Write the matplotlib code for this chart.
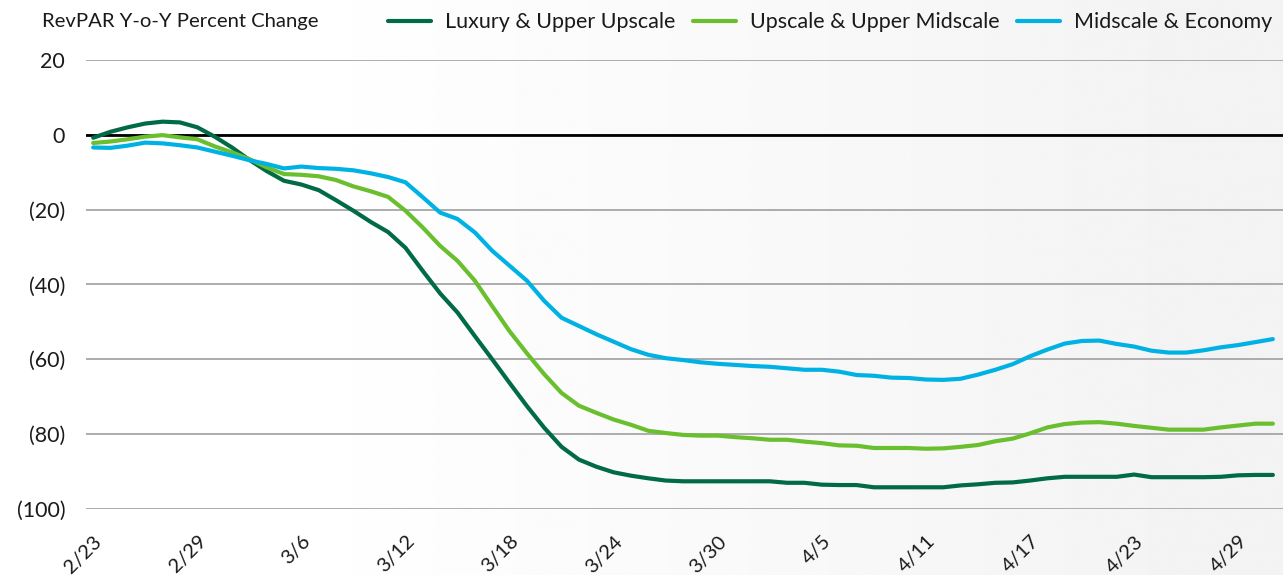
import numpy as np
import pandas as pd
import matplotlib.pyplot as plt
from matplotlib.transforms import ScaledTranslation

# daily RevPAR y-o-y % change, 2/23 to 5/1
dates = pd.date_range('2020-02-23', '2020-05-01', freq='D')

luxury = [-0.8, 0.8, 2.0, 3.0, 3.5, 3.3, 2.0, -0.5, -3.4, -6.7,
          -9.7, -12.3, -13.3, -14.8, -17.5, -20.3, -23.3, -26.0, -30.2, -36.4,
          -42.4, -47.5, -53.8, -60.0, -66.3, -72.5, -78.3, -83.4, -86.8, -88.7,
          -90.2, -91.1, -91.8, -92.4, -92.6, -92.6, -92.6, -92.6, -92.6, -92.6,
          -93.0, -93.0, -93.5, -93.6, -93.6, -94.2, -94.2, -94.2, -94.2, -94.2,
          -93.7, -93.4, -93.0, -92.9, -92.4, -91.8, -91.4, -91.4, -91.4, -91.4,
          -90.8, -91.5, -91.5, -91.5, -91.5, -91.4, -91.0, -90.9, -90.9]

upscale = [-2.2, -1.8, -1.2, -0.5, -0.1, -0.7, -1.2, -3.1, -4.7, -6.5,
           -8.7, -10.5, -10.7, -11.1, -12.1, -13.8, -15.1, -16.6, -20.3, -24.8,
           -29.7, -33.7, -39.0, -45.8, -52.5, -58.4, -64.0, -69.0, -72.4, -74.3,
           -76.1, -77.5, -79.1, -79.7, -80.2, -80.4, -80.4, -80.8, -81.1, -81.5,
           -81.5, -82.0, -82.4, -83.0, -83.1, -83.7, -83.7, -83.7, -83.9, -83.8,
           -83.4, -82.9, -81.9, -81.2, -79.8, -78.2, -77.3, -76.9, -76.8, -77.2,
           -77.8, -78.3, -78.8, -78.8, -78.8, -78.2, -77.7, -77.2, -77.2]

midscale = [-3.4, -3.5, -2.9, -2.1, -2.3, -2.8, -3.4, -4.5, -5.6, -6.8,
            -7.8, -9.0, -8.5, -8.9, -9.1, -9.5, -10.3, -11.3, -12.7, -16.7,
            -20.8, -22.5, -26.1, -31.0, -35.0, -39.0, -44.4, -48.9, -51.1, -53.3,
            -55.3, -57.3, -58.8, -59.7, -60.2, -60.8, -61.2, -61.5, -61.8, -62.0,
            -62.4, -62.8, -62.8, -63.3, -64.2, -64.4, -64.9, -65.0, -65.4, -65.5,
            -65.2, -64.1, -62.8, -61.3, -59.2, -57.4, -55.8, -55.1, -55.0, -55.9,
            -56.6, -57.7, -58.2, -58.2, -57.6, -56.8, -56.2, -55.4, -54.6]

series_names = ['Luxury & Upper Upscale', 'Upscale & Upper Midscale', 'Midscale & Economy']
colors = ['#006b45', '#6abf2e', '#00b2e3']

y_ticks = [20, 0, -20, -40, -60, -80, -100]
y_tick_labels = ['20', '0', '(20)', '(40)', '(60)', '(80)', '(100)']

plt.rcParams['font.family'] = ['Lato', 'DejaVu Sans']
text_color = '#1a1a1a'

fig = plt.figure(figsize=(12.83, 5.75), dpi=100)

# faint background gradient
bg = fig.add_axes([0, 0, 1, 1], zorder=-2)
grad = np.linspace(0, 1, 256)
gx, gy = np.meshgrid(grad, grad)
shade = 1.0 - 0.045 * np.clip(gx * 1.4 - 0.3, 0, 1)
bg.imshow(shade, cmap='gray', vmin=0, vmax=1, aspect='auto', extent=[0, 1, 0, 1])
bg.axis('off')

ax = fig.add_axes([0.067, 0.1148, 0.933, 0.781])
ax.patch.set_alpha(0)

for vals, name, c in zip([luxury, upscale, midscale], series_names, colors):
    ax.plot(dates, vals, color=c, lw=3.0, label=name, solid_capstyle='round', zorder=3)

ax.set_ylim(-100, 20)
ax.set_yticks(y_ticks)
ax.set_yticklabels(y_tick_labels)
ax.yaxis.grid(True, color='#a6a6a9', lw=1.3)
ax.axhline(0, color='black', lw=2, zorder=2)

ax.set_xlim(dates[0] - pd.Timedelta(hours=10), dates[-1] + pd.Timedelta(hours=14))
tick_dates = dates[::6]
ax.set_xticks(tick_dates)
ax.set_xticklabels([f'{d.month}/{d.day}' for d in tick_dates], rotation=45,
                   ha='right', rotation_mode='anchor')
shift = ScaledTranslation(-0.07, 0, fig.dpi_scale_trans)
for lab in ax.get_xticklabels():
    lab.set_transform(lab.get_transform() + shift)

for s in ax.spines.values():
    s.set_visible(False)
ax.tick_params(length=0, labelsize=14.5, colors=text_color)
ax.tick_params(axis='y', labelsize=15.5, pad=15)
ax.tick_params(axis='x', pad=17)

fig.text(0.033, 0.963, 'RevPAR Y-o-Y Percent Change', fontsize=14.6, color=text_color,
         va='center', ha='left')

fig.legend(loc='upper right', bbox_to_anchor=(0.998, 0.994), ncol=3, frameon=False,
           fontsize=15.5, handlelength=2.0, columnspacing=0.8, handletextpad=0.65,
           borderaxespad=0, labelcolor=text_color)

plt.savefig('out.png', dpi=100)
